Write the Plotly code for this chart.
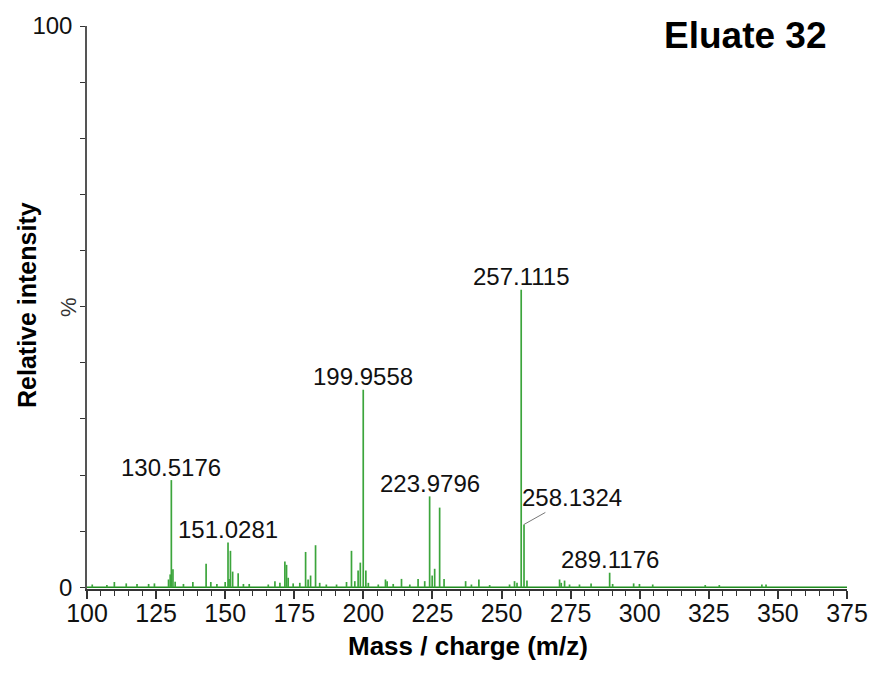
import plotly.graph_objects as go

# ---- data ----
peak_mz = [101.9, 107.2, 109.9, 114.2, 118.1, 122.3, 124.4, 129.5, 130.1, 130.5176, 131.1,
           131.9, 134.9, 138.3, 143.1, 144.8, 147.0, 150.0, 151.0281, 151.4, 151.9, 152.7,
           154.7, 156.6, 158.7, 165.6, 168.0, 169.8, 171.6, 172.2, 172.8, 174.6, 177.0,
           179.1, 180.0, 180.9, 182.7, 184.2, 186.6, 190.3, 193.9, 195.7, 196.9, 198.1,
           198.9, 199.9558, 200.9, 201.8, 205.4, 208.0, 208.6, 210.8, 213.8, 216.8, 219.8,
           222.2, 223.9796, 224.9, 225.8, 227.6, 229.2, 237.0, 239.1, 241.8, 245.7, 252.9,
           254.7, 255.6, 257.1115, 258.1324, 259.2, 271.0, 271.6, 272.8, 274.6, 278.2,
           282.4, 289.1176, 290.2, 297.8, 299.9, 304.7, 323.7, 328.8, 344.2, 345.7]
peak_int = [0.5, 0.4, 0.95, 0.7, 0.6, 0.6, 0.7, 1.4, 2.3, 19.1, 3.2,
            1.0, 0.6, 0.95, 4.2, 0.95, 0.6, 0.95, 8.0, 1.5, 6.5, 2.8,
            2.5, 0.6, 0.6, 0.5, 1.1, 0.8, 4.6, 4.0, 1.7, 0.7, 0.8,
            6.3, 1.4, 2.1, 7.5, 0.8, 0.5, 0.5, 0.95, 6.5, 1.1, 3.0,
            4.4, 35.2, 3.0, 0.8, 0.5, 1.4, 1.1, 0.6, 1.5, 0.5, 1.5,
            1.1, 16.2, 2.1, 3.3, 14.2, 1.5, 1.1, 0.5, 1.4, 0.4, 0.5,
            1.1, 0.8, 53.0, 11.2, 1.2, 1.4, 0.8, 1.2, 0.5, 0.5,
            0.7, 2.6, 0.6, 0.7, 0.6, 0.5, 0.4, 0.4, 0.5, 0.5]

label_mz = [130.5176, 151.0281, 199.9558, 223.9796, 257.1115, 258.1324, 289.1176]
label_int = [19.1, 8.0, 35.2, 16.2, 53.0, 11.2, 2.6]

x_tick_vals = [100, 125, 150, 175, 200, 225, 250, 275, 300, 325, 350, 375]
y_tick_vals = [0, 10, 20, 30, 40, 50, 60, 70, 80, 90, 100]
y_tick_text = ["0", "", "", "", "", "", "", "", "", "", "100"]

FONT = "Liberation Sans, Arial, sans-serif"
GREEN = "rgb(60,165,60)"

W, H = 878, 675
L, R, T, B = 87, 31, 26, 86
pw, ph = W - L - R, H - T - B


def px_x(x):
    return (x - L) / pw


def px_y(y):
    return (H - B - y) / ph


# build stick coordinates from the peak lists
xs, ys = [], []
for m, h in zip(peak_mz, peak_int):
    xs += [m, m, None]
    ys += [0, h, None]

fig = go.Figure()
fig.add_trace(go.Scatter(x=[x_tick_vals[0], x_tick_vals[-1]], y=[0, 0], mode="lines",
                         line=dict(color="rgb(30,140,30)", width=1.5), hoverinfo="skip",
                         showlegend=False))
fig.add_trace(go.Scatter(x=xs, y=ys, mode="lines", line=dict(color=GREEN, width=1.7),
                         showlegend=False))

annotations = []
for m, h in zip(label_mz, label_int):
    txt = f"{m:.4f}"
    if abs(m - 258.1324) < 1e-6:
        annotations.append(dict(x=m, y=h, xref="x", yref="y", text=txt, showarrow=True,
                                arrowhead=0, arrowwidth=1, arrowcolor="rgb(120,120,120)",
                                ax=48, ay=-27, font=dict(family=FONT, size=24, color="#111")))
    else:
        annotations.append(dict(x=m, y=h, xref="x", yref="y", text=txt, showarrow=False,
                                xanchor="center", yanchor="middle", yshift=13,
                                font=dict(family=FONT, size=24, color="#111")))

common = dict(xref="paper", yref="paper", showarrow=False, xanchor="center", yanchor="middle")
annotations += [
    dict(x=px_x(745), y=px_y(36), text="<b>Eluate 32</b>",
         font=dict(family=FONT, size=37, color="#000"), **common),
    dict(x=px_x(68), y=px_y(307), text="%", textangle=-90,
         font=dict(family=FONT, size=22, color="#333"), **common),
    dict(x=px_x(27), y=px_y(305), text="<b>Relative intensity</b>", textangle=-90,
         font=dict(family=FONT, size=25, color="#000"), **common),
    dict(x=px_x(468), y=px_y(646), text="<b>Mass / charge (m/z)</b>",
         font=dict(family=FONT, size=26, color="#000"), **common),
]

fig.update_layout(
    width=W, height=H,
    margin=dict(l=L, r=R, t=T, b=B, autoexpand=False),
    plot_bgcolor="white", paper_bgcolor="white",
    font=dict(family=FONT, size=24, color="#111"),
    annotations=annotations,
    xaxis=dict(range=[100, 375], tickvals=x_tick_vals, showgrid=False, zeroline=False,
               showline=True, linecolor="#333", linewidth=1.5, ticks="outside", ticklen=8,
               tickwidth=1.5, tickcolor="#333", tickfont=dict(family=FONT, size=25),
               ticklabelstandoff=-7,
               minor=dict(dtick=5, tick0=100, ticks="outside", ticklen=5, tickwidth=1.2,
                          tickcolor="#333")),
    yaxis=dict(range=[-0.3, 100], tickvals=y_tick_vals, ticktext=y_tick_text,
               showgrid=False, zeroline=False, showline=True, linecolor="#555",
               linewidth=1.5, ticks="outside", ticklen=5, tickwidth=1.2, tickcolor="#333",
               tickfont=dict(family=FONT, size=24), ticklabelstandoff=3),
)

fig.write_html("out.html", config={"displayModeBar": False},
               post_script="document.body.style.margin='0';")
